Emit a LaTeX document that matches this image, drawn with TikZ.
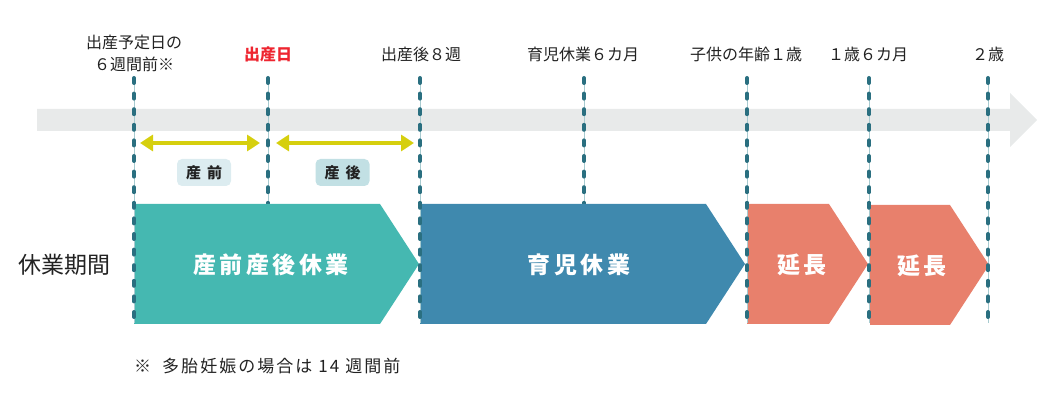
\documentclass[tikz,border=0pt]{standalone}
\usepackage{fontspec}
\setmainfont{Noto Sans CJK JP}
\usetikzlibrary{arrows.meta}
\definecolor{bandgray}{HTML}{E8EAEA}
\definecolor{ylw}{HTML}{D6CF0E}
\definecolor{boxA}{HTML}{DCECF0}
\definecolor{boxB}{HTML}{C2E0E4}
\definecolor{tealc}{HTML}{45B8B1}
\definecolor{bluec}{HTML}{3F89AE}
\definecolor{salm}{HTML}{E8806C}
\definecolor{dashc}{HTML}{2A6F80}
\definecolor{thinc}{HTML}{A8CBD0}
\definecolor{txt}{HTML}{222222}
\definecolor{redc}{HTML}{EE2530}
\tikzset{
  toplabel/.style={text=txt, font=\fontsize{16}{22}\selectfont, align=center, inner sep=0},
  shapelabel/.style={text=white, font=\fontsize{23}{26}\selectfont\bfseries\addfontfeature{LetterSpace=15}, inner sep=0},
  tagbox/.style={rounded corners=5pt, minimum width=54pt, minimum height=27pt, inner sep=0, text=txt, font=\fontsize{15}{17}\selectfont\bfseries},
  yarrow/.style={draw=ylw, line width=4.5pt},
  guide/.style={draw=thinc, line width=1pt},
  guidedash/.style={draw=dashc, line width=4pt, line cap=round, dash pattern=on 5pt off 10.6pt},
}
\begin{document}
\begin{tikzpicture}[x=1pt,y=-1pt]
\useasboundingbox (0,0) rectangle (1050,403);
% timeline band
\fill[bandgray] (37,109) -- (1010,109) -- (1010,93) -- (1037,120) -- (1010,147) -- (1010,131) -- (37,131) -- cycle;
% guide lines hidden behind the shapes
\foreach \n/\x in {g2/268, g4/584} {
  \coordinate (\n t) at (\x,78);
  \coordinate (\n b) at (\x,323);
  \draw[guide] (\n t) -- (\n b);
  \draw[guidedash] (\n t) -- (\n b);
}
% period shapes
\fill[tealc] (134,204) -- (380,204) -- (419,264) -- (380,324) -- (134,324) -- cycle;
\fill[bluec] (420,204) -- (706,204) -- (745,264) -- (706,324) -- (420,324) -- cycle;
\fill[salm] (747,204) -- (829,204) -- (868,264) -- (829,324) -- (747,324) -- cycle;
\fill[salm] (870,205) -- (950,205) -- (989,265) -- (950,325) -- (870,325) -- cycle;
\node[shapelabel] (sango) at (271,265) {産前産後休業};
\node[shapelabel] (ikuji) at (579,265) {育児休業};
\node[shapelabel] (ench1) at (802,265) {延長};
\node[shapelabel] (ench2) at (922,266) {延長};
% guide lines over the shapes
\foreach \n/\x in {g1/134, g3/420, g5/747, g6/869, g7/988} {
  \coordinate (\n t) at (\x,78);
  \coordinate (\n b) at (\x,323);
  \draw[guide] (\n t) -- (\n b);
  \draw[guidedash] (\n t) -- (\n b);
}
% top labels
\node[toplabel] (l1) at (134,53) {出産予定日の\\６週間前※};
\node[toplabel, text=redc, font=\fontsize{16}{22}\selectfont\bfseries] (l2) at (268,54) {出産日};
\node[toplabel] (l3) at (421,54) {出産後８週};
\node[toplabel] (l4) at (583,54) {育児休業６カ月};
\node[toplabel] (l5) at (746,54) {子供の年齢１歳};
\node[toplabel] (l6) at (868,54) {１歳６カ月};
\node[toplabel] (l7) at (988,54) {２歳};
% yellow arrows
\coordinate (a1l) at (140,143);
\coordinate (a1r) at (260,143);
\coordinate (a2l) at (276,143);
\coordinate (a2r) at (414,143);
\draw[yarrow, {Triangle[length=13pt,width=16pt]}-{Triangle[length=13pt,width=16pt]}] (a1l) -- (a1r);
\draw[yarrow, {Triangle[length=13pt,width=16pt]}-{Triangle[length=13pt,width=16pt]}] (a2l) -- (a2r);
% tags
\node[tagbox, fill=boxA] (pre) at (204,172.5) {産\hspace{6pt}前};
\node[tagbox, fill=boxB] (post) at (342.5,172.5) {産\hspace{6pt}後};
% row label
\node[text=txt, font=\fontsize{23}{26}\selectfont, inner sep=0] (row) at (64,265) {休業期間};
% footnote
\node[anchor=west, text=txt, font=\fontsize{17}{20}\selectfont\addfontfeature{LetterSpace=12}, inner sep=0] (note) at (134,366) {※\hspace{11pt}多胎妊娠の場合は\hspace{6pt}14\hspace{6pt}週間前};
\end{tikzpicture}
\end{document}
